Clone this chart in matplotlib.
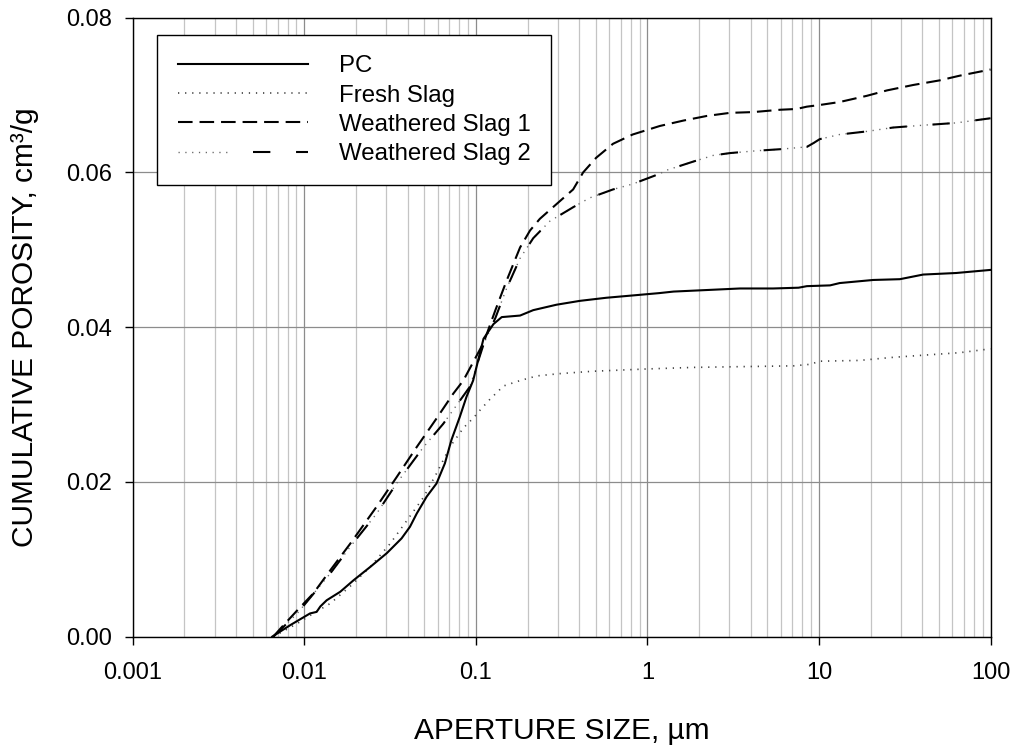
import matplotlib

matplotlib.use("Agg")

import matplotlib.pyplot as plt
from matplotlib.legend_handler import HandlerTuple
from matplotlib.ticker import FixedLocator, FixedFormatter, LogLocator, NullFormatter

plt.rcParams["font.family"] = ["Liberation Sans", "DejaVu Sans"]
plt.rcParams["lines.scale_dashes"] = False

# -- data (aperture size in um, cumulative porosity cm3/g)
PC_X = [0.0065, 0.0083, 0.0108, 0.0118, 0.0124, 0.0135, 0.0162, 0.0194, 0.0242,
        0.0303, 0.0369, 0.0413, 0.0452, 0.0517, 0.059, 0.066, 0.072, 0.0806,
        0.0882, 0.0964, 0.1108, 0.1267, 0.1415, 0.181, 0.216, 0.295, 0.404,
        0.576, 0.822, 1.17, 1.42, 2.22, 3.46, 5.4, 7.6, 8.5, 11.6, 13.2, 20.7,
        29.6, 40.5, 63, 100]
PC_Y = [0.0, 0.0015, 0.0030, 0.0032, 0.0039, 0.0047, 0.0058, 0.0073, 0.0090,
        0.0108, 0.0127, 0.0142, 0.0159, 0.0181, 0.0198, 0.0224, 0.0254, 0.0284,
        0.0310, 0.0331, 0.0385, 0.0404, 0.0413, 0.0415, 0.0422, 0.0429, 0.0434,
        0.0438, 0.0441, 0.0444, 0.0446, 0.0448, 0.0450, 0.0450, 0.0451, 0.0453,
        0.0454, 0.0457, 0.0461, 0.0462, 0.0468, 0.0470, 0.0474]

FRESH_X = [0.0066, 0.0091, 0.0113, 0.0142, 0.0185, 0.0242, 0.0316, 0.0396,
           0.0495, 0.059, 0.0705, 0.0848, 0.097, 0.106, 0.121, 0.145, 0.181,
           0.227, 0.31, 0.48, 1.0, 1.85, 3.6, 7.1, 8.9, 10.1, 17.2, 27, 42, 66, 100]
FRESH_Y = [0.0, 0.0017, 0.0030, 0.0043, 0.0065, 0.0090, 0.0120, 0.0150,
           0.0180, 0.0211, 0.0245, 0.0270, 0.0283, 0.0293, 0.0307, 0.0324, 0.0331,
           0.0337, 0.0340, 0.0343, 0.0346, 0.0348, 0.0349, 0.0350, 0.0352, 0.0356,
           0.0357, 0.0361, 0.0364, 0.0367, 0.0372]

WS1_X = [0.0066, 0.0073, 0.0091, 0.0113, 0.0142, 0.0185, 0.0264, 0.0345, 0.0452,
         0.059, 0.0738, 0.0845, 0.111, 0.13, 0.151, 0.181, 0.207, 0.236, 0.295,
         0.369, 0.422, 0.503, 0.63, 0.82, 1.18, 1.62, 2.22, 3.03, 4.15, 5.94,
         7.4, 8.5, 10, 13.2, 19, 24.9, 35.4, 50.6, 66, 100]
WS1_Y = [0.0, 0.0011, 0.0034, 0.0056, 0.0086, 0.0120, 0.0168, 0.0206, 0.0245,
         0.0282, 0.0314, 0.0331, 0.0380, 0.0422, 0.0460, 0.0503, 0.0525, 0.0540,
         0.0559, 0.0578, 0.0600, 0.0619, 0.0637, 0.0649, 0.0660, 0.0667, 0.0673,
         0.0677, 0.0678, 0.0681, 0.0682, 0.0685, 0.0687, 0.0691, 0.0699, 0.0706,
         0.0713, 0.0719, 0.0725, 0.0733]

WS2_X = [0.0066, 0.0091, 0.0142, 0.0185, 0.0264, 0.0345, 0.0495, 0.0645, 0.0923,
         0.111, 0.13, 0.151, 0.181, 0.216, 0.27, 0.369, 0.46, 0.63, 0.82, 1.17,
         1.3, 1.85, 2.42, 3.03, 4.34, 5.94, 8.5, 9.3, 10.1, 13.2, 19, 27, 40.5,
         63, 100]
WS2_Y = [0.0, 0.0030, 0.0082, 0.0116, 0.0159, 0.0198, 0.0245, 0.0275, 0.0323,
         0.0378, 0.0412, 0.0450, 0.0489, 0.0515, 0.0537, 0.0555, 0.0567, 0.0578,
         0.0585, 0.0598, 0.0603, 0.0614, 0.0622, 0.0625, 0.0628, 0.0630, 0.0633,
         0.0638, 0.0643, 0.0649, 0.0653, 0.0658, 0.0661, 0.0664, 0.0670]

LABELS = ["PC", "Fresh Slag", "Weathered Slag 1", "Weathered Slag 2"]
X_TICKS = [0.001, 0.01, 0.1, 1, 10, 100]
X_TICK_LABELS = ["0.001", "0.01", "0.1", "1", "10", "100"]
Y_TICKS = [0.0, 0.02, 0.04, 0.06, 0.08]

MAJOR_GRID = "#8c8c8c"
MINOR_GRID = "#c4c4c4"

fig = plt.figure(figsize=(10.17, 7.49), dpi=100, facecolor="white")
ax = fig.add_axes([0.1305, 0.150, 0.8435, 0.8264])

pc, = ax.plot(PC_X, PC_Y, color="black", lw=1.5, zorder=4)
fresh, = ax.plot(FRESH_X, FRESH_Y, color="0.25", lw=1.2,
                 linestyle=(0, (0.9, 4.2)), zorder=3)
ws1, = ax.plot(WS1_X, WS1_Y, color="black", lw=1.5,
               linestyle=(0, (10.5, 5.0)), zorder=4)
# dash + three light dots: gray dotted line underneath a long-gap dashed line
ws2_dots, = ax.plot(WS2_X, WS2_Y, color="0.4", lw=1.0,
                    linestyle=(0, (0.9, 4.0)), zorder=3)
ws2_dash, = ax.plot(WS2_X, WS2_Y, color="black", lw=1.5,
                    linestyle=(0, (12.5, 18.5)), zorder=4)

ax.set_xscale("log")
ax.set_xlim(0.001, 100)
ax.set_ylim(0, 0.08)

ax.xaxis.set_major_locator(FixedLocator(X_TICKS))
ax.xaxis.set_major_formatter(FixedFormatter(X_TICK_LABELS))
ax.xaxis.set_minor_locator(LogLocator(base=10, subs=range(2, 10)))
ax.xaxis.set_minor_formatter(NullFormatter())
ax.set_yticks(Y_TICKS)
ax.set_yticklabels([f"{v:.2f}" for v in Y_TICKS])

ax.grid(True, which="major", color=MAJOR_GRID, lw=0.9, zorder=0)
ax.grid(True, which="minor", axis="x", color=MINOR_GRID, lw=0.9, zorder=0)
ax.set_axisbelow(True)

ax.tick_params(which="major", direction="out", length=6, width=1.0,
               labelsize=17, pad=9, colors="black")
ax.tick_params(which="minor", length=0)
ax.tick_params(axis="x", pad=12)
for spine in ax.spines.values():
    spine.set_color("black")
    spine.set_linewidth(1.0)

ax.set_xlabel("APERTURE SIZE, \u00b5m", fontsize=21.5, labelpad=24)
ax.set_ylabel("CUMULATIVE POROSITY, cm\u00b3/g", fontsize=21.5, labelpad=19)

leg = ax.legend(
    [pc, fresh, ws1, (ws2_dots, ws2_dash)],
    LABELS,
    handler_map={tuple: HandlerTuple(ndivide=None)},
    loc="upper left",
    bbox_to_anchor=(0.0287, 0.972),
    borderaxespad=0,
    fontsize=17.3,
    frameon=True,
    fancybox=False,
    framealpha=1,
    edgecolor="black",
    handlelength=5.4,
    handletextpad=1.3,
    labelspacing=0.3,
    borderpad=0.85,
)
leg.get_frame().set_linewidth(1.0)

fig.savefig("out.png", dpi=100, facecolor="white")
